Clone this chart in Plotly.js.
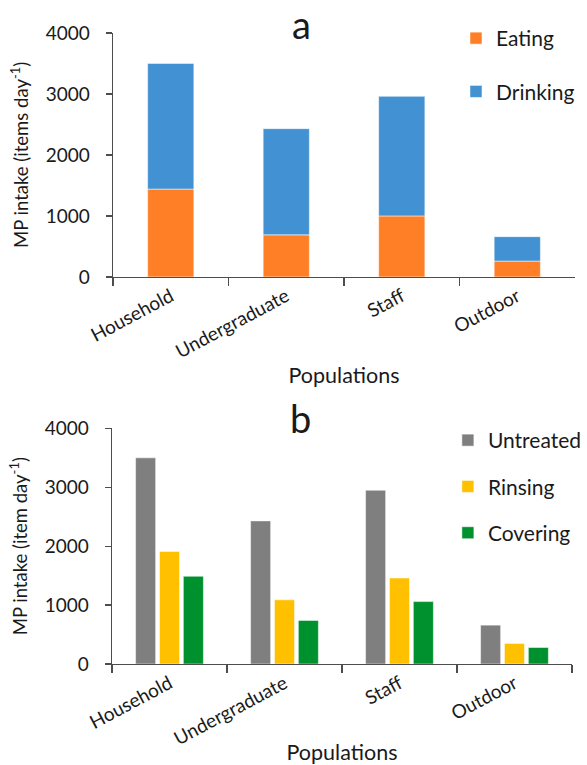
<!DOCTYPE html>
<html>
<head>
<meta charset="utf-8">
<script src="https://cdn.plot.ly/plotly-3.0.1.min.js"></script>
<style>html,body{margin:0;padding:0;background:#fff;}#chart{width:587px;height:765px;}</style>
</head>
<body>
<div id="chart"></div>
<script>
const categories = ["Household", "Undergraduate", "Staff", "Outdoor"];
const eating = [1440, 690, 1000, 260];
const drinking = [2060, 1740, 1960, 400];
const untreated = [3500, 2430, 2950, 660];
const rinsing = [1910, 1090, 1460, 350];
const covering = [1490, 740, 1060, 280];

const FONT = "Lato, 'Open Sans', sans-serif";
const TXT = "#1a1a1a";
const AX = "#4d4d4d";

const traces = [
  {type: "bar", name: "Eating", x: categories, y: eating, xaxis: "x", yaxis: "y",
   width: 0.4, offset: -0.2, legendgroup: "e", legend: "legend",
   marker: {color: "#FF7F27", line: {color: "rgba(255,255,255,0.5)", width: 1}}},
  {type: "bar", name: "Drinking", x: categories, y: drinking, base: eating, xaxis: "x", yaxis: "y",
   width: 0.4, offset: -0.2, legendgroup: "d", legend: "legend",
   marker: {color: "#4191D3", line: {color: "rgba(255,255,255,0.5)", width: 1}}},
  {type: "bar", name: "Untreated", x: categories, y: untreated, xaxis: "x2", yaxis: "y2",
   legendgroup: "u", legend: "legend2",
   marker: {color: "#7F7F7F", line: {color: "rgba(255,255,255,0.5)", width: 1}}},
  {type: "bar", name: "Rinsing", x: categories, y: rinsing, xaxis: "x2", yaxis: "y2",
   legendgroup: "r", legend: "legend2",
   marker: {color: "#FFC000", line: {color: "rgba(255,255,255,0.5)", width: 1}}},
  {type: "bar", name: "Covering", x: categories, y: covering, xaxis: "x2", yaxis: "y2",
   legendgroup: "c", legend: "legend2",
   marker: {color: "#00912F", line: {color: "rgba(255,255,255,0.5)", width: 1}}}
];

function xax(domain, anchor) {
  return {
    domain: domain, anchor: anchor, type: "category", range: [-0.5, 3.5],
    showline: true, linecolor: AX, linewidth: 1.3, mirror: false,
    ticks: "outside", tickson: "boundaries", ticklen: 8, tickcolor: AX, tickwidth: 1.3,
    tickangle: -28, tickfont: {family: FONT, size: 19, color: TXT},
    showgrid: false, zeroline: false, automargin: false, fixedrange: true,
    title: {text: "Populations", font: {family: FONT, size: 21.5, color: TXT}, standoff: 0}
  };
}
function yax(domain, anchor, title) {
  return {
    domain: domain, anchor: anchor, range: [0, 4000], dtick: 1000, tick0: 0,
    showline: true, linecolor: AX, linewidth: 1.3,
    ticks: "outside", ticklen: 6, tickcolor: AX, tickwidth: 1.3,
    ticklabelstandoff: 12,
    tickfont: {family: FONT, size: 19, color: TXT},
    showgrid: false, zeroline: false, automargin: false, fixedrange: true,
    title: {text: title, font: {family: FONT, size: 18.5, color: TXT}, standoff: 12}
  };
}

const layout = {
  width: 587, height: 765,
  margin: {l: 0, r: 0, t: 0, b: 0},
  paper_bgcolor: "#fff", plot_bgcolor: "#fff",
  barmode: "group", bargap: 0.377, bargroupgap: 0.16,
  font: {family: FONT, color: TXT},
  xaxis: xax([0.1925, 0.9796], "y"),
  yaxis: yax([0.638, 0.957], "x", "MP intake (items day<sup>-1</sup>)"),
  xaxis2: xax([0.1908, 0.9744], "y2"),
  yaxis2: yax([0.132, 0.440], "x2", "MP intake (item day<sup>-1</sup>)"),
  legend: {x: 0.7768, y: 0.9765, xanchor: "left", yanchor: "top", traceorder: "grouped",
           tracegroupgap: 23, itemwidth: 30, bgcolor: "rgba(0,0,0,0)",
           font: {family: FONT, size: 21, color: TXT}},
  legend2: {x: 0.763, y: 0.451, xanchor: "left", yanchor: "top", traceorder: "grouped",
            tracegroupgap: 16, itemwidth: 30, bgcolor: "rgba(0,0,0,0)",
            font: {family: FONT, size: 21, color: TXT}},
  annotations: [
    {text: "a", xref: "paper", yref: "paper", x: 0.514, y: 0.969, xanchor: "center", yanchor: "middle",
     showarrow: false, font: {family: FONT, size: 38, color: TXT}},
    {text: "b", xref: "paper", yref: "paper", x: 0.512, y: 0.453, xanchor: "center", yanchor: "middle",
     showarrow: false, font: {family: FONT, size: 38, color: TXT}}
  ],
  showlegend: true
};

Plotly.newPlot("chart", traces, layout, {displayModeBar: false, staticPlot: true});
</script>
</body>
</html>
